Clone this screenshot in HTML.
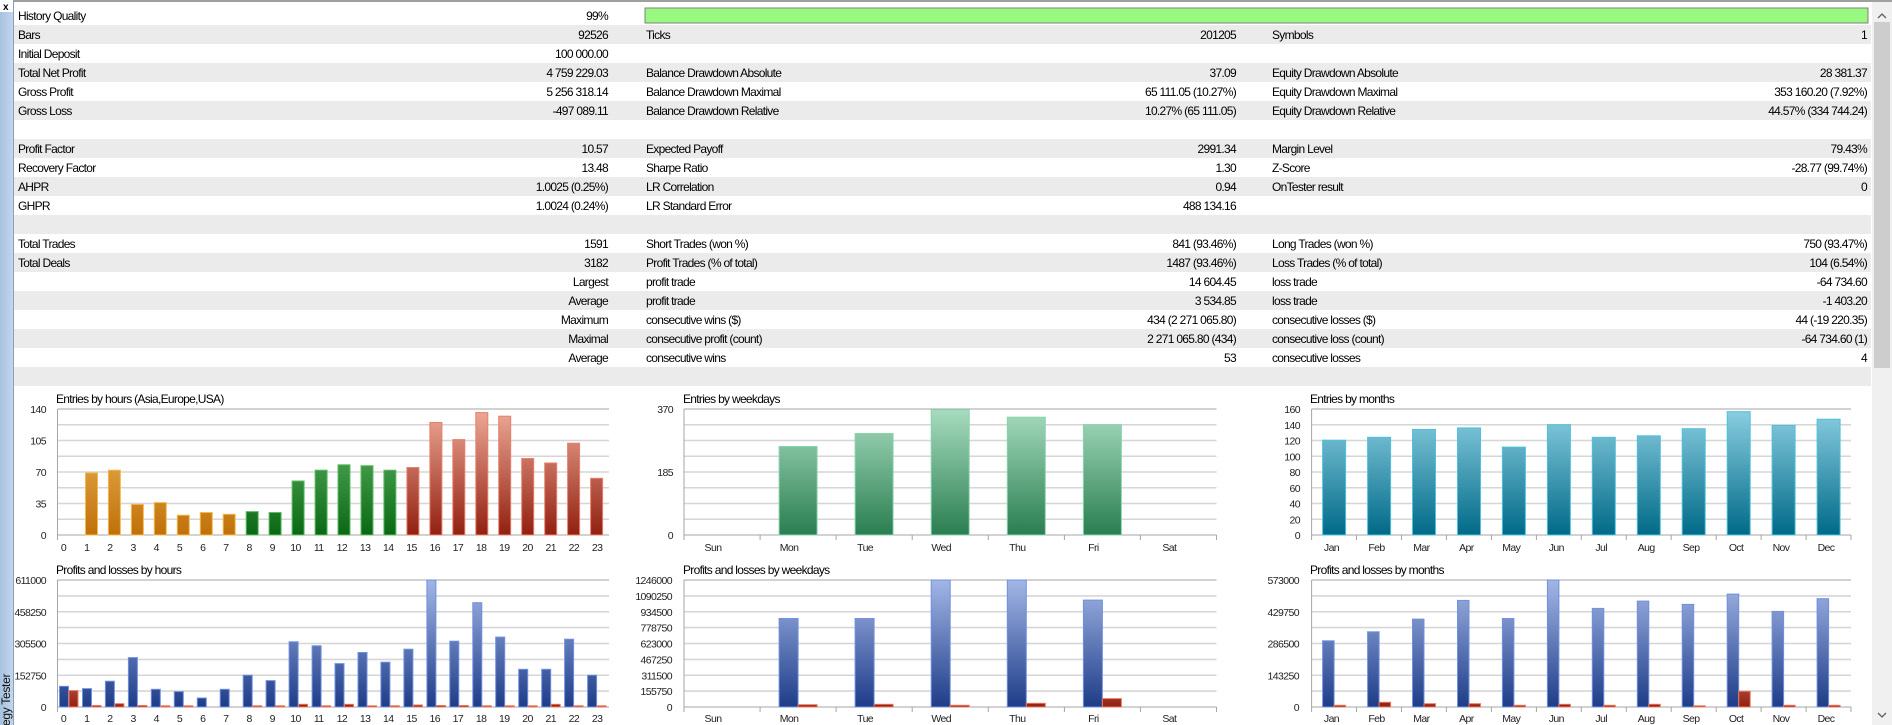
<!DOCTYPE html>
<html><head><meta charset="utf-8"><style>
html,body{margin:0;padding:0;background:#fff;width:1892px;height:725px;overflow:hidden}
svg{display:block}
text{font-family:"Liberation Sans Narrow","Liberation Sans",sans-serif;font-size:12px;fill:#000;letter-spacing:-0.7px}
.r{text-anchor:end}
.ax{font-size:10.5px;fill:#222;letter-spacing:-0.6px}
.c{text-anchor:middle}
.g{stroke:#d6d6d6;stroke-width:1.6}
.b{stroke:#a6a6a6;stroke-width:1}
</style></head><body>
<svg width="1892" height="725" xmlns="http://www.w3.org/2000/svg">
<defs>
<linearGradient id="side" x1="0" x2="1" y1="0" y2="0"><stop offset="0" stop-color="#a8c2e0"/><stop offset="1" stop-color="#c2d6ee"/></linearGradient>
<linearGradient id="or" gradientUnits="userSpaceOnUse" x1="0" y1="409" x2="0" y2="535"><stop offset="0" stop-color="#f4c068"/><stop offset="1" stop-color="#c07008"/></linearGradient>
<linearGradient id="gr" gradientUnits="userSpaceOnUse" x1="0" y1="409" x2="0" y2="535"><stop offset="0" stop-color="#6cc070"/><stop offset="1" stop-color="#0a6814"/></linearGradient>
<linearGradient id="rd" gradientUnits="userSpaceOnUse" x1="0" y1="409" x2="0" y2="535"><stop offset="0" stop-color="#eeaa98"/><stop offset="1" stop-color="#922010"/></linearGradient>
<linearGradient id="wg" gradientUnits="userSpaceOnUse" x1="0" y1="409" x2="0" y2="535"><stop offset="0" stop-color="#a8dcc0"/><stop offset="1" stop-color="#2a7e50"/></linearGradient>
<linearGradient id="tl" gradientUnits="userSpaceOnUse" x1="0" y1="409" x2="0" y2="535"><stop offset="0" stop-color="#8ccfe2"/><stop offset="1" stop-color="#006a88"/></linearGradient>
<linearGradient id="bl" gradientUnits="userSpaceOnUse" x1="0" y1="580" x2="0" y2="707"><stop offset="0" stop-color="#a2b6e6"/><stop offset="1" stop-color="#1e3c88"/></linearGradient>
<linearGradient id="rp" gradientUnits="userSpaceOnUse" x1="0" y1="640" x2="0" y2="707"><stop offset="0" stop-color="#f0a090"/><stop offset="1" stop-color="#922010"/></linearGradient>
</defs>
<rect x="0" y="0" width="1892" height="725" fill="#fff"/>
<g fill="#ebebeb">
<rect x="13" y="25" width="1858" height="19"/><rect x="13" y="63" width="1858" height="19"/><rect x="13" y="101" width="1858" height="19"/>
<rect x="13" y="139" width="1858" height="19"/><rect x="13" y="177" width="1858" height="19"/><rect x="13" y="215" width="1858" height="19"/>
<rect x="13" y="253" width="1858" height="19"/><rect x="13" y="291" width="1858" height="19"/><rect x="13" y="329" width="1858" height="19"/>
<rect x="13" y="367" width="1858" height="19"/>
</g>
<rect x="0" y="0" width="1892" height="2" fill="#a0a0a0"/>
<rect x="645" y="8" width="1223" height="15" fill="#98f880" stroke="#808080" stroke-width="1"/>
<g>
<text x="18" y="20">History Quality</text><text x="608" y="20" class="r">99%</text>
<text x="18" y="39">Bars</text><text x="608" y="39" class="r">92526</text><text x="646" y="39">Ticks</text><text x="1236" y="39" class="r">201205</text><text x="1272" y="39">Symbols</text><text x="1867" y="39" class="r">1</text>
<text x="18" y="58">Initial Deposit</text><text x="608" y="58" class="r">100 000.00</text>
<text x="18" y="77">Total Net Profit</text><text x="608" y="77" class="r">4 759 229.03</text><text x="646" y="77">Balance Drawdown Absolute</text><text x="1236" y="77" class="r">37.09</text><text x="1272" y="77">Equity Drawdown Absolute</text><text x="1867" y="77" class="r">28 381.37</text>
<text x="18" y="96">Gross Profit</text><text x="608" y="96" class="r">5 256 318.14</text><text x="646" y="96">Balance Drawdown Maximal</text><text x="1236" y="96" class="r">65 111.05 (10.27%)</text><text x="1272" y="96">Equity Drawdown Maximal</text><text x="1867" y="96" class="r">353 160.20 (7.92%)</text>
<text x="18" y="115">Gross Loss</text><text x="608" y="115" class="r">-497 089.11</text><text x="646" y="115">Balance Drawdown Relative</text><text x="1236" y="115" class="r">10.27% (65 111.05)</text><text x="1272" y="115">Equity Drawdown Relative</text><text x="1867" y="115" class="r">44.57% (334 744.24)</text>
<text x="18" y="153">Profit Factor</text><text x="608" y="153" class="r">10.57</text><text x="646" y="153">Expected Payoff</text><text x="1236" y="153" class="r">2991.34</text><text x="1272" y="153">Margin Level</text><text x="1867" y="153" class="r">79.43%</text>
<text x="18" y="172">Recovery Factor</text><text x="608" y="172" class="r">13.48</text><text x="646" y="172">Sharpe Ratio</text><text x="1236" y="172" class="r">1.30</text><text x="1272" y="172">Z-Score</text><text x="1867" y="172" class="r">-28.77 (99.74%)</text>
<text x="18" y="191">AHPR</text><text x="608" y="191" class="r">1.0025 (0.25%)</text><text x="646" y="191">LR Correlation</text><text x="1236" y="191" class="r">0.94</text><text x="1272" y="191">OnTester result</text><text x="1867" y="191" class="r">0</text>
<text x="18" y="210">GHPR</text><text x="608" y="210" class="r">1.0024 (0.24%)</text><text x="646" y="210">LR Standard Error</text><text x="1236" y="210" class="r">488 134.16</text>
<text x="18" y="248">Total Trades</text><text x="608" y="248" class="r">1591</text><text x="646" y="248">Short Trades (won %)</text><text x="1236" y="248" class="r">841 (93.46%)</text><text x="1272" y="248">Long Trades (won %)</text><text x="1867" y="248" class="r">750 (93.47%)</text>
<text x="18" y="267">Total Deals</text><text x="608" y="267" class="r">3182</text><text x="646" y="267">Profit Trades (% of total)</text><text x="1236" y="267" class="r">1487 (93.46%)</text><text x="1272" y="267">Loss Trades (% of total)</text><text x="1867" y="267" class="r">104 (6.54%)</text>
<text x="608" y="286" class="r">Largest</text><text x="646" y="286">profit trade</text><text x="1236" y="286" class="r">14 604.45</text><text x="1272" y="286">loss trade</text><text x="1867" y="286" class="r">-64 734.60</text>
<text x="608" y="305" class="r">Average</text><text x="646" y="305">profit trade</text><text x="1236" y="305" class="r">3 534.85</text><text x="1272" y="305">loss trade</text><text x="1867" y="305" class="r">-1 403.20</text>
<text x="608" y="324" class="r">Maximum</text><text x="646" y="324">consecutive wins ($)</text><text x="1236" y="324" class="r">434 (2 271 065.80)</text><text x="1272" y="324">consecutive losses ($)</text><text x="1867" y="324" class="r">44 (-19 220.35)</text>
<text x="608" y="343" class="r">Maximal</text><text x="646" y="343">consecutive profit (count)</text><text x="1236" y="343" class="r">2 271 065.80 (434)</text><text x="1272" y="343">consecutive loss (count)</text><text x="1867" y="343" class="r">-64 734.60 (1)</text>
<text x="608" y="362" class="r">Average</text><text x="646" y="362">consecutive wins</text><text x="1236" y="362" class="r">53</text><text x="1272" y="362">consecutive losses</text><text x="1867" y="362" class="r">4</text>
</g>

<g>
<g class="g"><line x1="57.5" x2="609" y1="424.75" y2="424.75"/><line x1="57.5" x2="609" y1="440.5" y2="440.5"/><line x1="57.5" x2="609" y1="456.25" y2="456.25"/><line x1="57.5" x2="609" y1="472" y2="472"/><line x1="57.5" x2="609" y1="487.75" y2="487.75"/><line x1="57.5" x2="609" y1="503.5" y2="503.5"/><line x1="57.5" x2="609" y1="519.25" y2="519.25"/>
<line x1="684" x2="1216.5" y1="424.75" y2="424.75"/><line x1="684" x2="1216.5" y1="440.5" y2="440.5"/><line x1="684" x2="1216.5" y1="456.25" y2="456.25"/><line x1="684" x2="1216.5" y1="472" y2="472"/><line x1="684" x2="1216.5" y1="487.75" y2="487.75"/><line x1="684" x2="1216.5" y1="503.5" y2="503.5"/><line x1="684" x2="1216.5" y1="519.25" y2="519.25"/>
<line x1="1311.6" x2="1851" y1="424.75" y2="424.75"/><line x1="1311.6" x2="1851" y1="440.5" y2="440.5"/><line x1="1311.6" x2="1851" y1="456.25" y2="456.25"/><line x1="1311.6" x2="1851" y1="472" y2="472"/><line x1="1311.6" x2="1851" y1="487.75" y2="487.75"/><line x1="1311.6" x2="1851" y1="503.5" y2="503.5"/><line x1="1311.6" x2="1851" y1="519.25" y2="519.25"/>
<line x1="57.5" x2="609" y1="595.9" y2="595.9"/><line x1="57.5" x2="609" y1="611.75" y2="611.75"/><line x1="57.5" x2="609" y1="627.6" y2="627.6"/><line x1="57.5" x2="609" y1="643.5" y2="643.5"/><line x1="57.5" x2="609" y1="659.4" y2="659.4"/><line x1="57.5" x2="609" y1="675.25" y2="675.25"/><line x1="57.5" x2="609" y1="691.1" y2="691.1"/>
<line x1="684" x2="1216.5" y1="595.9" y2="595.9"/><line x1="684" x2="1216.5" y1="611.75" y2="611.75"/><line x1="684" x2="1216.5" y1="627.6" y2="627.6"/><line x1="684" x2="1216.5" y1="643.5" y2="643.5"/><line x1="684" x2="1216.5" y1="659.4" y2="659.4"/><line x1="684" x2="1216.5" y1="675.25" y2="675.25"/><line x1="684" x2="1216.5" y1="691.1" y2="691.1"/>
<line x1="1311.6" x2="1851" y1="595.9" y2="595.9"/><line x1="1311.6" x2="1851" y1="611.75" y2="611.75"/><line x1="1311.6" x2="1851" y1="627.6" y2="627.6"/><line x1="1311.6" x2="1851" y1="643.5" y2="643.5"/><line x1="1311.6" x2="1851" y1="659.4" y2="659.4"/><line x1="1311.6" x2="1851" y1="675.25" y2="675.25"/><line x1="1311.6" x2="1851" y1="691.1" y2="691.1"/>
</g>
<g class="b">
<line x1="57.5" x2="609" y1="409" y2="409"/><line x1="57.5" x2="609" y1="535" y2="535"/><line x1="57.5" x2="57.5" y1="409" y2="540"/>
<line x1="684" x2="1216.5" y1="409" y2="409"/><line x1="684" x2="1216.5" y1="535" y2="535"/><line x1="684" x2="684" y1="409" y2="540"/>
<line x1="1311.6" x2="1851" y1="409" y2="409"/><line x1="1311.6" x2="1851" y1="535" y2="535"/><line x1="1311.6" x2="1311.6" y1="409" y2="540"/>
<line x1="57.5" x2="609" y1="580" y2="580"/><line x1="57.5" x2="609" y1="707" y2="707"/><line x1="57.5" x2="57.5" y1="580" y2="712"/>
<line x1="684" x2="1216.5" y1="580" y2="580"/><line x1="684" x2="1216.5" y1="707" y2="707"/><line x1="684" x2="684" y1="580" y2="712"/>
<line x1="1311.6" x2="1851" y1="580" y2="580"/><line x1="1311.6" x2="1851" y1="707" y2="707"/><line x1="1311.6" x2="1311.6" y1="580" y2="712"/>
<path d="M760.1 535v5M836.1 535v5M912.2 535v5M988.3 535v5M1064.4 535v5M1140.4 535v5M1216.5 535v5M760.1 707v5M836.1 707v5M912.2 707v5M988.3 707v5M1064.4 707v5M1140.4 707v5M1216.5 707v5"/>
<path d="M1356.5 535v5M1401.5 535v5M1446.4 535v5M1491.4 535v5M1536.4 535v5M1581.3 535v5M1626.3 535v5M1671.2 535v5M1716.2 535v5M1761.1 535v5M1806.1 535v5M1851 535v5M1356.5 707v5M1401.5 707v5M1446.4 707v5M1491.4 707v5M1536.4 707v5M1581.3 707v5M1626.3 707v5M1671.2 707v5M1716.2 707v5M1761.1 707v5M1806.1 707v5M1851 707v5"/>
</g>
</g>

<text x="56" y="403">Entries by hours (Asia,Europe,USA)</text>
<text x="683" y="403">Entries by weekdays</text>
<text x="1310" y="403">Entries by months</text>
<text x="56" y="574">Profits and losses by hours</text>
<text x="683" y="574">Profits and losses by weekdays</text>
<text x="1310" y="574">Profits and losses by months</text>

<g>
<text x="46" y="413" class="ax r">140</text><text x="46" y="444.5" class="ax r">105</text><text x="46" y="476" class="ax r">70</text><text x="46" y="507.5" class="ax r">35</text><text x="46" y="539" class="ax r">0</text>
<text x="46" y="584" class="ax r">611000</text><text x="46" y="615.75" class="ax r">458250</text><text x="46" y="647.5" class="ax r">305500</text><text x="46" y="679.25" class="ax r">152750</text><text x="46" y="711" class="ax r">0</text>
<text x="673" y="413" class="ax r">370</text><text x="673" y="476" class="ax r">185</text><text x="673" y="539" class="ax r">0</text>
<text x="672" y="584" class="ax r">1246000</text><text x="672" y="599.9" class="ax r">1090250</text><text x="672" y="615.75" class="ax r">934500</text><text x="672" y="631.6" class="ax r">778750</text><text x="672" y="647.5" class="ax r">623000</text><text x="672" y="663.4" class="ax r">467250</text><text x="672" y="679.25" class="ax r">311500</text><text x="672" y="695.1" class="ax r">155750</text><text x="672" y="711" class="ax r">0</text>
<text x="1300" y="413" class="ax r">160</text><text x="1300" y="428.75" class="ax r">140</text><text x="1300" y="444.5" class="ax r">120</text><text x="1300" y="460.25" class="ax r">100</text><text x="1300" y="476" class="ax r">80</text><text x="1300" y="491.75" class="ax r">60</text><text x="1300" y="507.5" class="ax r">40</text><text x="1300" y="523.25" class="ax r">20</text><text x="1300" y="539" class="ax r">0</text>
<text x="1299" y="584" class="ax r">573000</text><text x="1299" y="615.75" class="ax r">429750</text><text x="1299" y="647.5" class="ax r">286500</text><text x="1299" y="679.25" class="ax r">143250</text><text x="1299" y="711" class="ax r">0</text>
</g>

<g>
<text class="ax c" x="63.5" y="551">0</text><text class="ax c" x="86.7" y="551">1</text><text class="ax c" x="109.9" y="551">2</text><text class="ax c" x="133.1" y="551">3</text><text class="ax c" x="156.3" y="551">4</text><text class="ax c" x="179.5" y="551">5</text><text class="ax c" x="202.7" y="551">6</text><text class="ax c" x="225.9" y="551">7</text><text class="ax c" x="249.1" y="551">8</text><text class="ax c" x="272.3" y="551">9</text><text class="ax c" x="295.5" y="551">10</text><text class="ax c" x="318.7" y="551">11</text><text class="ax c" x="341.9" y="551">12</text><text class="ax c" x="365.1" y="551">13</text><text class="ax c" x="388.3" y="551">14</text><text class="ax c" x="411.5" y="551">15</text><text class="ax c" x="434.7" y="551">16</text><text class="ax c" x="457.9" y="551">17</text><text class="ax c" x="481.1" y="551">18</text><text class="ax c" x="504.3" y="551">19</text><text class="ax c" x="527.5" y="551">20</text><text class="ax c" x="550.7" y="551">21</text><text class="ax c" x="573.9" y="551">22</text><text class="ax c" x="597.1" y="551">23</text>
<text class="ax c" x="63.5" y="722">0</text><text class="ax c" x="86.7" y="722">1</text><text class="ax c" x="109.9" y="722">2</text><text class="ax c" x="133.1" y="722">3</text><text class="ax c" x="156.3" y="722">4</text><text class="ax c" x="179.5" y="722">5</text><text class="ax c" x="202.7" y="722">6</text><text class="ax c" x="225.9" y="722">7</text><text class="ax c" x="249.1" y="722">8</text><text class="ax c" x="272.3" y="722">9</text><text class="ax c" x="295.5" y="722">10</text><text class="ax c" x="318.7" y="722">11</text><text class="ax c" x="341.9" y="722">12</text><text class="ax c" x="365.1" y="722">13</text><text class="ax c" x="388.3" y="722">14</text><text class="ax c" x="411.5" y="722">15</text><text class="ax c" x="434.7" y="722">16</text><text class="ax c" x="457.9" y="722">17</text><text class="ax c" x="481.1" y="722">18</text><text class="ax c" x="504.3" y="722">19</text><text class="ax c" x="527.5" y="722">20</text><text class="ax c" x="550.7" y="722">21</text><text class="ax c" x="573.9" y="722">22</text><text class="ax c" x="597.1" y="722">23</text>
<text class="ax c" x="713" y="551">Sun</text><text class="ax c" x="789.1" y="551">Mon</text><text class="ax c" x="865.1" y="551">Tue</text><text class="ax c" x="941.2" y="551">Wed</text><text class="ax c" x="1017.3" y="551">Thu</text><text class="ax c" x="1093.4" y="551">Fri</text><text class="ax c" x="1169.4" y="551">Sat</text>
<text class="ax c" x="713" y="722">Sun</text><text class="ax c" x="789.1" y="722">Mon</text><text class="ax c" x="865.1" y="722">Tue</text><text class="ax c" x="941.2" y="722">Wed</text><text class="ax c" x="1017.3" y="722">Thu</text><text class="ax c" x="1093.4" y="722">Fri</text><text class="ax c" x="1169.4" y="722">Sat</text>
<text class="ax c" x="1331.5" y="551">Jan</text><text class="ax c" x="1376.5" y="551">Feb</text><text class="ax c" x="1421.4" y="551">Mar</text><text class="ax c" x="1466.4" y="551">Apr</text><text class="ax c" x="1511.3" y="551">May</text><text class="ax c" x="1556.3" y="551">Jun</text><text class="ax c" x="1601.2" y="551">Jul</text><text class="ax c" x="1646.2" y="551">Aug</text><text class="ax c" x="1691.1" y="551">Sep</text><text class="ax c" x="1736.1" y="551">Oct</text><text class="ax c" x="1781" y="551">Nov</text><text class="ax c" x="1826" y="551">Dec</text>
<text class="ax c" x="1331.5" y="722">Jan</text><text class="ax c" x="1376.5" y="722">Feb</text><text class="ax c" x="1421.4" y="722">Mar</text><text class="ax c" x="1466.4" y="722">Apr</text><text class="ax c" x="1511.3" y="722">May</text><text class="ax c" x="1556.3" y="722">Jun</text><text class="ax c" x="1601.2" y="722">Jul</text><text class="ax c" x="1646.2" y="722">Aug</text><text class="ax c" x="1691.1" y="722">Sep</text><text class="ax c" x="1736.1" y="722">Oct</text><text class="ax c" x="1781" y="722">Nov</text><text class="ax c" x="1826" y="722">Dec</text>
</g>

<g fill="url(#or)" stroke="#f5b850" stroke-width="1">
<rect x="85.5" y="472.9" width="12" height="62.1"/><rect x="108.4" y="470.2" width="12" height="64.8"/><rect x="131.4" y="504.4" width="12" height="30.6"/><rect x="154.3" y="502.6" width="12" height="32.4"/><rect x="177.3" y="515.2" width="12" height="19.8"/><rect x="200.3" y="512.5" width="12" height="22.5"/><rect x="223.2" y="514.3" width="12" height="20.7"/>
</g>
<g fill="url(#gr)" stroke="#5cbc62" stroke-width="1">
<rect x="246.2" y="511.6" width="12" height="23.4"/><rect x="269.1" y="512.5" width="12" height="22.5"/><rect x="292.1" y="481" width="12" height="54"/><rect x="315.1" y="470.2" width="12" height="64.8"/><rect x="338" y="464.8" width="12" height="70.2"/><rect x="361" y="465.7" width="12" height="69.3"/><rect x="383.9" y="470.2" width="12" height="64.8"/>
</g>
<g fill="url(#rd)" stroke="#e8806c" stroke-width="1">
<rect x="406.9" y="467.5" width="12" height="67.5"/><rect x="429.9" y="422.5" width="12" height="112.5"/><rect x="452.8" y="439.6" width="12" height="95.4"/><rect x="475.8" y="412.6" width="12" height="122.4"/><rect x="498.7" y="416.2" width="12" height="118.8"/><rect x="521.7" y="458.5" width="12" height="76.5"/><rect x="544.7" y="463" width="12" height="72"/><rect x="567.6" y="443.2" width="12" height="91.8"/><rect x="590.6" y="478.3" width="12" height="56.7"/>
</g>

<g fill="url(#wg)" stroke="#88d4ac" stroke-width="1">
<rect x="779.1" y="446.5" width="38" height="88.5"/><rect x="855.1" y="433.5" width="38" height="101.5"/><rect x="931.2" y="409.7" width="38" height="125.3"/><rect x="1007.3" y="417.2" width="38" height="117.8"/><rect x="1083.4" y="424.7" width="38" height="110.3"/>
</g>

<g fill="url(#tl)" stroke="#50c0dc" stroke-width="1">
<rect x="1322.6" y="440.2" width="23" height="94.8"/><rect x="1367.6" y="437.3" width="23" height="97.7"/><rect x="1412.5" y="429.5" width="23" height="105.5"/><rect x="1457.5" y="427.9" width="23" height="107.1"/><rect x="1502.4" y="447.1" width="23" height="87.9"/><rect x="1547.4" y="424.7" width="23" height="110.3"/><rect x="1592.3" y="437.3" width="23" height="97.7"/><rect x="1637.3" y="435.8" width="23" height="99.2"/><rect x="1682.2" y="428.7" width="23" height="106.3"/><rect x="1727.2" y="411.7" width="23" height="123.3"/><rect x="1772.1" y="425.5" width="23" height="109.5"/><rect x="1817.1" y="419.2" width="23" height="115.8"/>
</g>

<g fill="url(#bl)" stroke="#7090e0" stroke-width="1">
<rect x="59.5" y="686.3" width="9" height="20.7"/><rect x="82.5" y="688.6" width="9" height="18.4"/><rect x="105.4" y="681.2" width="9" height="25.8"/><rect x="128.4" y="657.6" width="9" height="49.4"/><rect x="151.3" y="689.3" width="9" height="17.7"/><rect x="174.3" y="691.6" width="9" height="15.4"/><rect x="197.3" y="698" width="9" height="9"/><rect x="220.2" y="689.3" width="9" height="17.7"/><rect x="243.2" y="675.2" width="9" height="31.8"/><rect x="266.1" y="680.6" width="9" height="26.4"/><rect x="289.1" y="641.8" width="9" height="65.2"/><rect x="312.1" y="645.8" width="9" height="61.2"/><rect x="335" y="663.6" width="9" height="43.4"/><rect x="358" y="652.5" width="9" height="54.5"/><rect x="380.9" y="662.2" width="9" height="44.8"/><rect x="403.9" y="649.2" width="9" height="57.8"/><rect x="426.9" y="580" width="9" height="127"/><rect x="449.8" y="641.2" width="9" height="65.8"/><rect x="472.8" y="602.7" width="9" height="104.3"/><rect x="495.7" y="637.1" width="9" height="69.9"/><rect x="518.7" y="669.3" width="9" height="37.7"/><rect x="541.7" y="669.3" width="9" height="37.7"/><rect x="564.6" y="639.2" width="9" height="67.8"/><rect x="587.6" y="675.2" width="9" height="31.8"/>
</g>
<g fill="url(#rp)" stroke="#e87860" stroke-width="1">
<rect x="69" y="690.6" width="9" height="16.4"/><rect x="92" y="705.5" width="9" height="1.5"/><rect x="114.9" y="703.7" width="9" height="3.3"/><rect x="137.9" y="705.5" width="9" height="1.5"/><rect x="160.8" y="705.8" width="9" height="1.2"/><rect x="183.8" y="705.8" width="9" height="1.2"/><rect x="252.7" y="705.8" width="9" height="1.2"/><rect x="275.6" y="705.8" width="9" height="1.2"/><rect x="298.6" y="704.3" width="9" height="2.7"/><rect x="321.6" y="705.8" width="9" height="1.2"/><rect x="344.5" y="704.3" width="9" height="2.7"/><rect x="367.5" y="705.8" width="9" height="1.2"/><rect x="390.4" y="705.8" width="9" height="1.2"/><rect x="413.4" y="705" width="9" height="2"/><rect x="436.4" y="705.5" width="9" height="1.5"/><rect x="459.3" y="705.5" width="9" height="1.5"/><rect x="482.3" y="705.8" width="9" height="1.2"/><rect x="505.2" y="705.8" width="9" height="1.2"/><rect x="528.2" y="705.8" width="9" height="1.2"/><rect x="551.2" y="704.3" width="9" height="2.7"/><rect x="574.1" y="705.8" width="9" height="1.2"/><rect x="597.1" y="705.8" width="9" height="1.2"/>
</g>

<g fill="url(#bl)" stroke="#7090e0" stroke-width="1">
<rect x="779.1" y="618.5" width="19" height="88.5"/><rect x="855.1" y="618.5" width="19" height="88.5"/><rect x="931.2" y="580" width="19" height="127"/><rect x="1007.3" y="580" width="19" height="127"/><rect x="1083.4" y="600.1" width="19" height="106.9"/>
</g>
<g fill="url(#rp)" stroke="#e87860" stroke-width="1">
<rect x="798.1" y="704.7" width="19" height="2.3"/><rect x="874.1" y="704.3" width="19" height="2.7"/><rect x="950.2" y="705.3" width="19" height="1.7"/><rect x="1026.3" y="703.3" width="19" height="3.7"/><rect x="1102.4" y="698.6" width="19" height="8.4"/>
</g>

<g fill="url(#bl)" stroke="#7090e0" stroke-width="1">
<rect x="1322.6" y="640.8" width="11.5" height="66.2"/><rect x="1367.6" y="631.8" width="11.5" height="75.2"/><rect x="1412.5" y="619.1" width="11.5" height="87.9"/><rect x="1457.5" y="600.4" width="11.5" height="106.6"/><rect x="1502.4" y="618.5" width="11.5" height="88.5"/><rect x="1547.4" y="580" width="11.5" height="127"/><rect x="1592.3" y="608.4" width="11.5" height="98.6"/><rect x="1637.3" y="601.1" width="11.5" height="105.9"/><rect x="1682.2" y="604.4" width="11.5" height="102.6"/><rect x="1727.2" y="594.1" width="11.5" height="112.9"/><rect x="1772.1" y="611.4" width="11.5" height="95.6"/><rect x="1817.1" y="598.7" width="11.5" height="108.3"/>
</g>
<g fill="url(#rp)" stroke="#e87860" stroke-width="1">
<rect x="1334.1" y="705.3" width="11.5" height="1.7"/><rect x="1379.1" y="702.3" width="11.5" height="4.7"/><rect x="1424" y="703.7" width="11.5" height="3.3"/><rect x="1469" y="703.7" width="11.5" height="3.3"/><rect x="1513.9" y="705.3" width="11.5" height="1.7"/><rect x="1558.9" y="704.3" width="11.5" height="2.7"/><rect x="1603.8" y="705.3" width="11.5" height="1.7"/><rect x="1648.8" y="704.3" width="11.5" height="2.7"/><rect x="1693.7" y="705.8" width="11.5" height="1.2"/><rect x="1738.7" y="691.3" width="11.5" height="15.7"/><rect x="1783.6" y="705.3" width="11.5" height="1.7"/><rect x="1828.6" y="705.3" width="11.5" height="1.7"/>
</g>

<rect x="0" y="0" width="13" height="725" fill="url(#side)"/>
<rect x="0" y="0" width="13" height="12" fill="#fff"/>
<line x1="13.5" y1="0" x2="13.5" y2="725" stroke="#8a9fb8" stroke-width="1"/>
<text x="3" y="10" style="font-size:10px;font-weight:bold;letter-spacing:0">x</text>
<text transform="translate(10,726) rotate(-90)" style="font-size:12px;fill:#111;letter-spacing:-0.3px">egy Tester</text>

<rect x="1872" y="2" width="20" height="723" fill="#f0f0f0"/>
<rect x="1874" y="22" width="16" height="346" fill="#cdcdcd"/>
<path d="M1878 18 l4 -4 l4 4" fill="none" stroke="#606060" stroke-width="1.3"/>
<path d="M1878 713 l4 4 l4 -4" fill="none" stroke="#606060" stroke-width="1.3"/>
</svg>
</body></html>
